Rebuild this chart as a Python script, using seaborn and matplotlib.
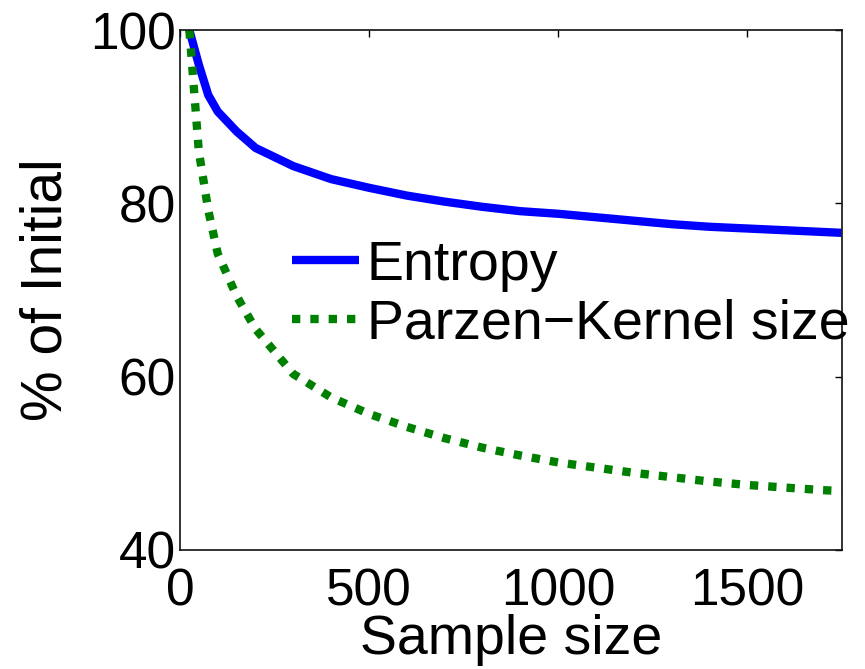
import numpy as np
import pandas as pd
import matplotlib
matplotlib.use("Agg")
import matplotlib.pyplot as plt
import seaborn as sns

# values
sample_size = [25, 50, 75, 100, 150, 200, 300, 400, 500, 600, 700, 800, 900,
               1000, 1100, 1200, 1300, 1400, 1500, 1600, 1700, 1750]
entropy = [100.0, 96.0, 92.5, 90.6, 88.3, 86.4, 84.3, 82.8, 81.8, 80.9, 80.2, 79.6, 79.1,
           78.8, 78.4, 78.0, 77.6, 77.3, 77.1, 76.9, 76.7, 76.6]
parzen = [100.0, 86.0, 79.2, 74.2, 69.3, 65.5, 60.3, 57.6, 55.7, 54.2, 52.9, 51.8, 50.9,
          50.1, 49.5, 48.9, 48.4, 47.9, 47.5, 47.2, 46.9, 46.8]

df = pd.DataFrame({"n": sample_size, "Entropy": entropy, "Parzen": parzen})

sns.set_style("white")
plt.rcParams['font.family'] = ['Liberation Sans', 'DejaVu Sans']
plt.rcParams['text.color'] = 'black'
plt.rcParams['axes.labelcolor'] = 'black'

fig = plt.figure(figsize=(8.65, 6.69), dpi=100)
ax = fig.add_axes([0.208, 0.178, 0.765, 0.777])

sns.lineplot(data=df, x="n", y="Entropy", ax=ax, color=(0, 0, 1), linewidth=6,
             label="Entropy", solid_capstyle='butt')
sns.lineplot(data=df, x="n", y="Parzen", ax=ax, color=(0, 0.5, 0), linewidth=6,
             linestyle=(0, (1, 1.2)), dash_capstyle='butt', label="Parzen\u2212Kernel size")

ax.set_xlim(0, 1750)
ax.set_ylim(40, 100)
ax.set_xticks([0, 500, 1000, 1500])
ax.set_yticks([40, 60, 80, 100])
ax.tick_params(direction='in', length=5, width=1, top=True, right=True,
               labelsize=37, colors='black')
ax.tick_params(axis='x', pad=13)
ax.tick_params(axis='y', pad=3)
for s in ax.spines.values():
    s.set_color('#111111')
    s.set_linewidth(1.2)

ax.set_xlabel("Sample size", fontsize=40, labelpad=-2)
ax.set_ylabel("% of Initial", fontsize=41, labelpad=12)

leg = ax.legend(loc='center left', bbox_to_anchor=(0.17, 0.49), frameon=False,
                fontsize=40, handlelength=1.2, handletextpad=0.14,
                borderpad=0, borderaxespad=0, labelspacing=0.12)

fig.savefig("out.png", dpi=100)
